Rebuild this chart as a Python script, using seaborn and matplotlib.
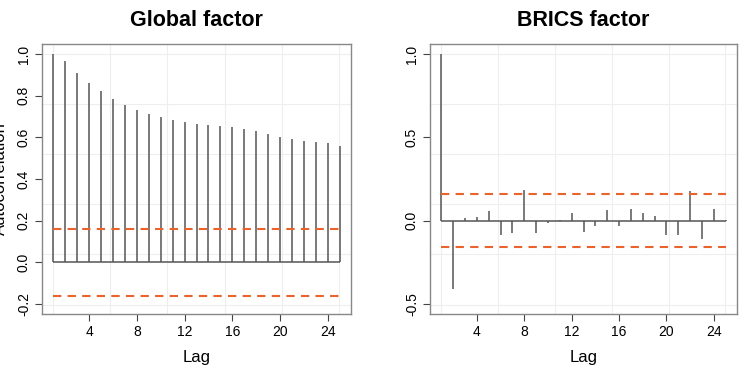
import numpy as np
import seaborn as sns
import matplotlib.pyplot as plt

lags = list(range(1, 26))
global_acf = [1.0, 0.965, 0.909, 0.863, 0.823, 0.786, 0.757, 0.733, 0.712, 0.696,
              0.685, 0.676, 0.665, 0.657, 0.653, 0.649, 0.642, 0.631, 0.617, 0.602,
              0.591, 0.583, 0.578, 0.573, 0.559]
brics_acf = [1.0, -0.41, 0.014, 0.02, 0.06, -0.088, -0.074, 0.182, -0.076, -0.014,
             0.003, 0.046, -0.066, -0.03, 0.062, -0.03, 0.07, 0.044, 0.028, -0.086,
             -0.084, 0.178, -0.11, 0.07, 0.002]
conf_bound = 0.16
titles = ["Global factor", "BRICS factor"]
xticks = [4, 8, 12, 16, 20, 24]
yticks_list = [[-0.2, 0.0, 0.2, 0.4, 0.6, 0.8, 1.0], [-0.5, 0.0, 0.5, 1.0]]
ylims = [(-0.248, 1.048), (-0.56, 1.06)]

sns.set_style("white")
plt.rcParams["font.family"] = ["Liberation Sans", "DejaVu Sans"]
plt.rcParams["text.color"] = "black"
plt.rcParams["axes.labelcolor"] = "black"
plt.rcParams["xtick.color"] = "black"
plt.rcParams["ytick.color"] = "black"

fig = plt.figure(figsize=(7.43, 3.67), dpi=100)
ax1 = fig.add_axes([42 / 743, 53 / 367, 309 / 743, 270 / 367])
ax2 = fig.add_axes([430 / 743, 53 / 367, 307 / 743, 270 / 367])

stem_col = "#555555"
band_col = "#E8642C"

for ax, vals, title, yt, yl in zip([ax1, ax2], [global_acf, brics_acf], titles,
                                   yticks_list, ylims):
    # faint background grid (equal divisions of the panel)
    for f in 0.035 + 0.1855 * np.arange(6):
        ax.axvline(f * (25.96 - 0.04) + 0.04, color="#eeeeee", lw=0.8, zorder=0)
        ax.axhline(yl[0] + f * (yl[1] - yl[0]), color="#eeeeee", lw=0.8, zorder=0)
    ax.vlines(lags, 0, vals, color=stem_col, lw=1.1)
    ax.hlines(0, lags[0], lags[-1], color=stem_col, lw=1.1)
    for b in (conf_bound, -conf_bound):
        ax.axhline(b, xmin=0.035, xmax=0.965, color=band_col, lw=1.5,
                   dashes=(4, 3))
    ax.set_xlim(0.04, 25.96)
    ax.set_ylim(*yl)
    ax.set_xticks(xticks)
    ax.set_yticks(yt)
    ax.set_yticklabels([f"{v:.1f}" for v in yt], rotation=90, va="center")
    ax.tick_params(axis="both", direction="out", length=5, width=0.8,
                   color="#444444", labelsize=10, pad=3,
                   bottom=True, left=True)
    ax.set_xlabel("Lag", fontsize=12, labelpad=8)
    ax.set_title(title, fontsize=15.5, fontweight="bold", pad=13)
    for s in ax.spines.values():
        s.set_color("#888888")
        s.set_linewidth(1.0)

ax1.set_ylabel("Autocorrelation", fontsize=12)
ax1.yaxis.set_label_coords(-0.11, 0.5)

fig.savefig("out.png", dpi=100)
